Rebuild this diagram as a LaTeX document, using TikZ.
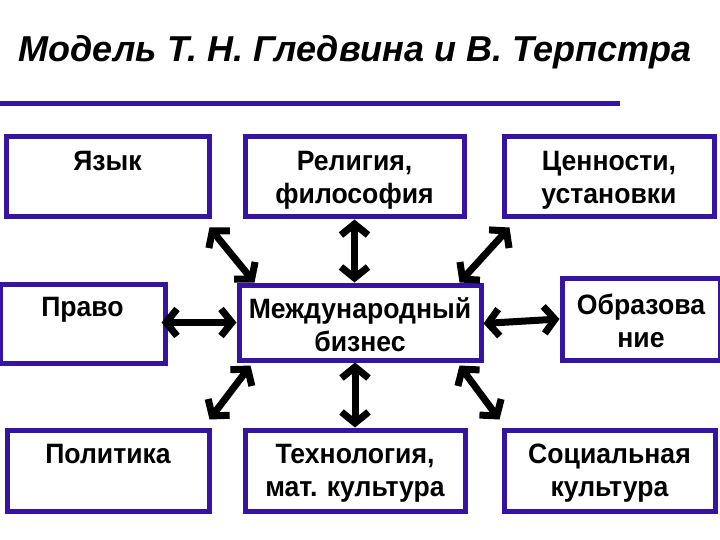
\documentclass[tikz,border=0pt]{standalone}
\usepackage{fontspec}
\setmainfont{Liberation Sans}
\newfontfamily\boxfont[FakeStretch=0.95]{Liberation Sans}
\usetikzlibrary{calc,positioning,arrows.meta}
\definecolor{boxblue}{RGB}{52,20,160}
\frenchspacing
\tikzset{
  x=1pt,y=-1pt,
  rectnode/.style args={#1,#2}{
  draw=boxblue,
  fill=white,
  line width=5pt,
  minimum width=#1pt,
  minimum height=#2pt,
  text width=#1pt-10pt,
  align=center,
  inner sep=0pt,
  execute at begin node=\rule{0pt}{25pt},
  font=\boxfont\fontsize{28}{33}\selectfont\bfseries
  },
  dblarrow/.style={
  line width=7pt,
  {Straight Barb[length=11pt,width=27pt]}-{Straight Barb[length=11pt,width=27pt]}
  }
}
\begin{document}
\begin{tikzpicture}
  \useasboundingbox (0,0) rectangle (720,540);

  \node [font=\fontsize{36}{40}\selectfont\bfseries\itshape] (title) at (355,52) {Модель Т. Н. Гледвина и В. Терпстра};
  \coordinate (lineL) at (0,104);
  \coordinate (lineR) at (620,104);
  \draw [boxblue,line width=5pt] (lineL) -- (lineR);

  % top row
  \node [rectnode={203,80}] (yaz) at (107.5,177) {Язык\\\phantom{ф}};
  \node [rectnode={219,80}] (rel) at (354.5,177) {Религия,\\философия};
  \node [rectnode={210,80}] (cen) at (609,177) {Ценности,\\установки};

  % middle row
  \node [rectnode={165,79}] (pravo) at (82.5,323.5) {Право\\\phantom{ф}};
  \node [rectnode={242,75}] (mb) at (360,322.5) {Международный\\бизнес};
  \node [rectnode={158,82}] (obr) at (641,319) {Образова\\ние};

  % bottom row
  \node [rectnode={202,81}] (pol) at (108,470.5) {Политика\\\phantom{ф}};
  \node [rectnode={220,81}] (tech) at (355,470.5) {Технология,\\мат. культура};
  \node [rectnode={211,81}] (soc) at (609.5,470.5) {Социальная\\культура};

  \draw [dblarrow] ($(yaz.south east)+(-2,8)$) -- ($(mb.north west)+(18,0)$);
  \draw [dblarrow] (rel.south) -- (rel.south |- mb.north);
  \draw [dblarrow] ($(cen.south west)+(8,8)$) -- ($(mb.north east)+(-24,0)$);

  \draw [dblarrow] ($(pravo.east)+(-6,-1)$) -- (mb.west);
  \draw [dblarrow] ($(mb.east)+(0,1)$) -- (obr.west);

  \draw [dblarrow] ($(pol.north east)+(-2,-8)$) -- ($(mb.south west)+(14,3)$);
  \draw [dblarrow] (tech.north) -- (tech.north |- mb.south);
  \draw [dblarrow] ($(soc.north west)+(-2,-8)$) -- ($(mb.south east)+(-24,3)$);
\end{tikzpicture}
\end{document}
